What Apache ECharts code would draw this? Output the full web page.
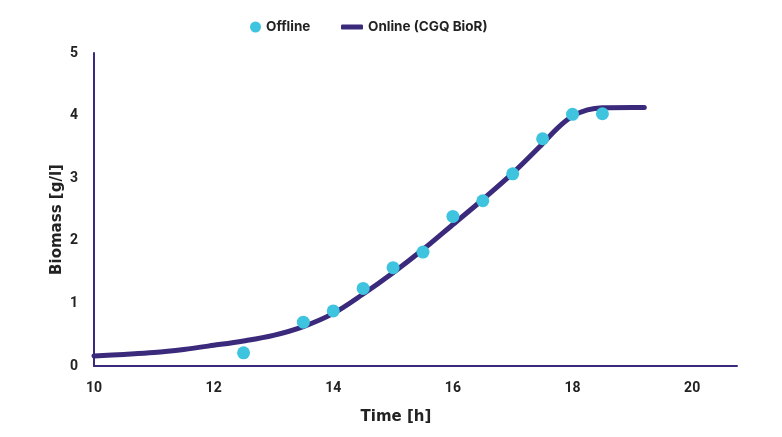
<!DOCTYPE html>
<html>
<head>
<meta charset="utf-8">
<script src="https://cdn.jsdelivr.net/npm/echarts@6/dist/echarts.min.js"></script>
<style>
html,body{margin:0;padding:0;background:#fff;}
#chart{width:782px;height:437px;}
</style>
</head>
<body>
<div id="chart"></div>
<script>
var offlineTime = [12.5, 13.5, 14.0, 14.5, 15.0, 15.5, 16.0, 16.5, 17.0, 17.5, 18.0, 18.5];
var offlineBiomass = [0.21, 0.70, 0.88, 1.24, 1.57, 1.82, 2.39, 2.64, 3.07, 3.63, 4.02, 4.03];

var onlineTime = [10.0, 10.5, 11.0, 11.5, 12.0, 12.5, 13.0, 13.5, 14.0, 14.5, 15.0, 15.5, 16.0, 16.5, 17.0, 17.5, 17.75, 18.0, 18.25, 18.5, 19.0, 19.2];
var onlineBiomass = [0.16, 0.185, 0.215, 0.265, 0.33, 0.40, 0.49, 0.63, 0.84, 1.15, 1.49, 1.86, 2.26, 2.66, 3.08, 3.55, 3.80, 3.99, 4.09, 4.125, 4.13, 4.13];

var xTicks = {min: 10, max: 20.75, interval: 2};
var yTicks = {min: 0, max: 5, interval: 1};

var purple = '#3b2a7b';
var cyan = '#3ec4df';
var legendFont = {fontFamily: 'Inter', fontWeight: 'bold', fontSize: 13.5, lineHeight: 14, color: '#222'};
var tickFont = {fontFamily: 'Roboto', fontWeight: 'bold', fontSize: 14, color: '#222'};
var nameFont = {fontFamily: 'DejaVu Sans', fontWeight: 'bold', fontSize: 15, color: '#222'};

var chart = echarts.init(document.getElementById('chart'), null, {renderer: 'canvas'});
chart.setOption({
  animation: false,
  backgroundColor: '#fff',
  legend: [{
    data: [{name: 'Offline', icon: 'circle'}],
    left: 245, top: 15,
    itemWidth: 11, itemHeight: 11, itemGap: 0, itemTextGap: 15,
    textStyle: legendFont
  }, {
    data: [{name: 'Online (CGQ BioR)', icon: 'roundRect'}],
    left: 336, top: 15,
    itemWidth: 22, itemHeight: 5, itemTextGap: 10,
    textStyle: legendFont
  }],
  grid: {left: 94, right: 45, top: 53, bottom: 71, containLabel: false},
  xAxis: {
    type: 'value', min: xTicks.min, max: xTicks.max, interval: xTicks.interval,
    name: 'Time [h]', nameLocation: 'middle', nameGap: 44, nameMoveOverlap: false,
    nameTextStyle: Object.assign({padding: [0, 39, 0, 0]}, nameFont),
    axisLine: {show: true, lineStyle: {color: purple, width: 2}},
    axisTick: {show: false},
    splitLine: {show: false},
    axisLabel: Object.assign({showMaxLabel: false, margin: 15}, tickFont)
  },
  yAxis: {
    type: 'value', min: yTicks.min, max: yTicks.max, interval: yTicks.interval,
    name: 'Biomass [g/l]', nameLocation: 'middle', nameGap: 29, nameRotate: 90, nameMoveOverlap: false,
    nameTextStyle: Object.assign({padding: [0, 20, 0, 0]}, nameFont),
    axisLine: {show: true, lineStyle: {color: purple, width: 2}},
    axisTick: {show: false},
    splitLine: {show: false},
    axisLabel: Object.assign({margin: 16}, tickFont)
  },
  series: [{
    name: 'Online (CGQ BioR)',
    type: 'line',
    smooth: 0.35,
    showSymbol: false,
    symbol: 'none',
    z: 2,
    data: onlineTime.map(function (t, i) { return [t, onlineBiomass[i]]; }),
    lineStyle: {color: purple, width: 5, cap: 'round', join: 'round'},
    itemStyle: {color: purple}
  }, {
    name: 'Offline',
    type: 'scatter',
    symbol: 'circle',
    symbolSize: 13,
    z: 3,
    data: offlineTime.map(function (t, i) { return [t, offlineBiomass[i]]; }),
    itemStyle: {color: cyan, opacity: 1}
  }]
});
</script>
</body>
</html>
